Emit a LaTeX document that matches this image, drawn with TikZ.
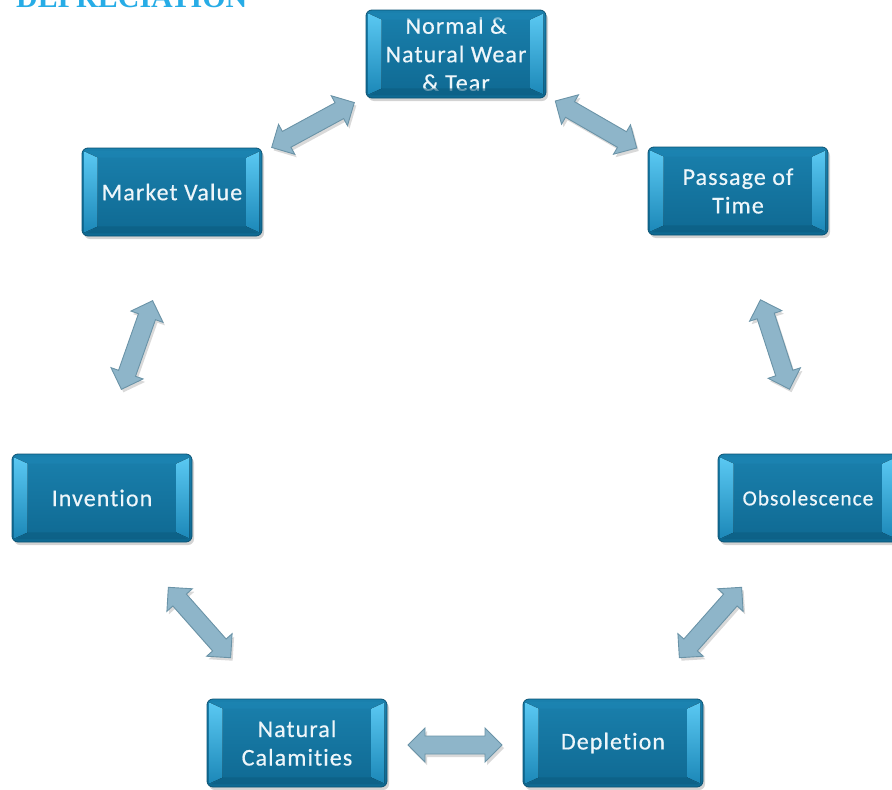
\documentclass[tikz,border=0pt]{standalone}
\usepackage{fontspec}
\setmainfont{Carlito}
\newfontfamily\boxfont[LetterSpace=4.5,FakeBold=0.5,Ligatures=NoCommon,RawFeature=-liga]{Carlito}
\newfontfamily\titlefont{Liberation Serif}
\usetikzlibrary{shadows,calc}
\definecolor{boxtop}{HTML}{1A80AD}
\definecolor{boxbot}{HTML}{0F6992}
\definecolor{boxedge}{HTML}{0B5373}
\definecolor{bevlt}{HTML}{5AC8F2}
\definecolor{bevlb}{HTML}{1C88B8}
\definecolor{bevtop}{HTML}{1E87B5}
\definecolor{bevbot}{HTML}{0C5C80}
\definecolor{boxtext}{HTML}{EEF6FA}
\definecolor{arrfill}{HTML}{8EB5C9}
\definecolor{arredge}{HTML}{6A93A7}
\definecolor{titleblue}{HTML}{27ACE6}
\newcommand\dblarr[2]{%
  \begin{scope}[shift={#1}, rotate=#2]
    \filldraw[arrstyle] (-47,0) -- (-30,-17) -- (-30,-9) -- (30,-9) -- (30,-17) -- (47,0)
      -- (30,17) -- (30,9) -- (-30,9) -- (-30,17) -- cycle;
  \end{scope}}
\begin{document}
\begin{tikzpicture}[x=1pt,y=-1pt,
  box/.style={rectangle, rounded corners=6pt, minimum width=180pt, minimum height=88pt,
    top color=boxtop, bottom color=boxbot, draw=boxedge, line width=0.8pt,
    drop shadow={opacity=0.35,shadow xshift=2pt,shadow yshift=-3pt},
    text=boxtext, align=center, inner sep=0pt,
    font=\boxfont\fontsize{24}{28.5}\selectfont},
  arrstyle/.style={fill=arrfill, draw=arredge, line width=0.9pt, line join=miter,
    drop shadow={opacity=0.3,shadow xshift=2pt,shadow yshift=-3pt}},
  sidebev/.style={top color=bevlt, bottom color=bevlb},
  topbev/.style={fill=bevtop},
  botbev/.style={fill=bevbot}]
\useasboundingbox (0,0) rectangle (892,790);

\node[anchor=base west, inner sep=0pt, text=titleblue,
  font=\titlefont\bfseries\fontsize{30}{30}\selectfont] (title) at (16,7) {DEPRECIATION};

% boxes
\node[box] (N) at (456,54) {Normal \&\\Natural Wear\\\& Tear};
\node[box] (P) at (738,191) {Passage of\\Time};
\node[box] (M) at (172,192) {Market Value};
\node[box] (I) at (102,498) {Invention};
\node[box, font=\boxfont\fontsize{21.5}{26}\selectfont] (O) at (808,498) {Obsolescence};
\node[box] (C) at (297,743) {Natural\\Calamities};
\node[box] (D) at (613,743) {Depletion};

% bevels
\foreach \n in {N,P,M,I,O,C,D}{
  \fill[topbev, opacity=0.5] ([shift={(4,3)}]\n.north west) -- ([shift={(-4,3)}]\n.north east)
     -- ([shift={(-16,10)}]\n.north east) -- ([shift={(16,10)}]\n.north west) -- cycle;
  \fill[botbev, opacity=0.6] ([shift={(4,-3)}]\n.south west) -- ([shift={(-4,-3)}]\n.south east)
     -- ([shift={(-16,-10)}]\n.south east) -- ([shift={(16,-10)}]\n.south west) -- cycle;
  \fill[sidebev] ([shift={(3,4)}]\n.north west) -- ([shift={(16,10)}]\n.north west)
     -- ([shift={(16,-10)}]\n.south west) -- ([shift={(3,-4)}]\n.south west) -- cycle;
  \fill[sidebev] ([shift={(-3,4)}]\n.north east) -- ([shift={(-16,10)}]\n.north east)
     -- ([shift={(-16,-10)}]\n.south east) -- ([shift={(-3,-4)}]\n.south east) -- cycle;
}

% connectors (double block arrows between the boxes)
\dblarr{($(N)!0.5!(M)+(-1,2)$)}{28.5}
\dblarr{($(N)!0.5!(P)+(-1,2)$)}{-30}
\dblarr{($(M)!0.5!(I)$)}{70.6}
\dblarr{($(P)!0.5!(O)+(2,0)$)}{-72}
\dblarr{($(I)!0.5!(C)+(0,2)$)}{-48.5}
\dblarr{($(O)!0.5!(D)+(0,2)$)}{48.5}
\dblarr{($(C)!0.5!(D)+(0,2)$)}{0}
\end{tikzpicture}
\end{document}
